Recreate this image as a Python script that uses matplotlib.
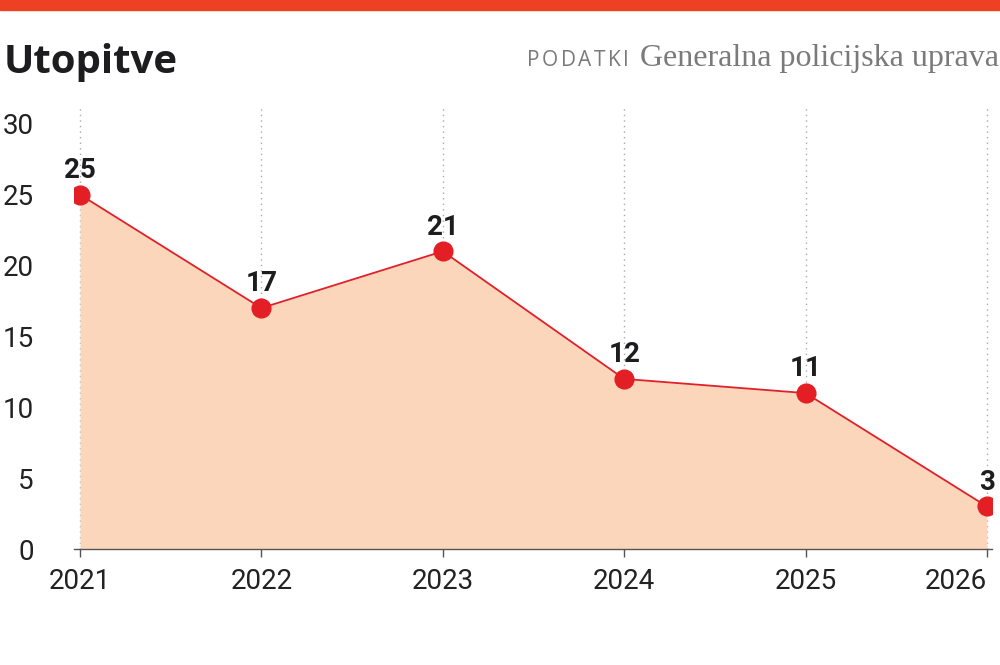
import matplotlib.pyplot as plt
from matplotlib.patches import Rectangle

# data
years = [2021, 2022, 2023, 2024, 2025, 2026]
drownings = [25, 17, 21, 12, 11, 3]
yticks = [0, 5, 10, 15, 20, 25, 30]

title = 'Utopitve'
source_label = 'PODATKI'
source_text = 'Generalna policijska uprava'

plt.rcParams['font.family'] = ['Roboto', 'DejaVu Sans']

fig = plt.figure(figsize=(10, 6.65), dpi=100)
ax = fig.add_axes([0.074, 0.1744, 0.918, 0.663])

# top red band
fig.patches.append(Rectangle((0, 1 - 10 / 665), 1, 10 / 665, transform=fig.transFigure,
                             color='#ee4023', zorder=0))

ax.fill_between(years, drownings, 0, color='#fbd6bb', lw=0, zorder=1)
ax.plot(years, drownings, color='#e0202a', lw=1.3, zorder=3)
ax.plot(years, drownings, 'o', color='#e31e24', markersize=13.5, zorder=4)

for x, y in zip(years, drownings):
    ax.annotate(str(y), (x, y), xytext=(0, 12), textcoords='offset points',
                ha='center', va='baseline', fontsize=20, fontweight='bold', color='#1d1d1f')

ax.set_xlim(2020.967, 2026.028)
ax.set_ylim(0, 31.1)
ax.set_xticks(years)
ax.set_yticks(yticks)
ax.tick_params(axis='x', length=6, width=1, color='#555555', labelsize=20, pad=8,
               labelcolor='#222222')
ax.tick_params(axis='y', length=0, labelsize=20, pad=29, labelcolor='#222222')
ax.get_xticklabels()[-1].set_ha('right')
ax.get_xticklabels()[-1].set_x(2026.02)

ax.xaxis.grid(True, linestyle=(0, (1, 3)), color='#aaaaaa', lw=1)
ax.set_axisbelow(True)
for s in ['top', 'right', 'left']:
    ax.spines[s].set_visible(False)
ax.spines['bottom'].set_color('#555555')
ax.spines['bottom'].set_linewidth(1)

fig.text(0.004, 1 - 73 / 665, title, fontsize=29, fontweight='bold', color='#1d1d1f',
         family=['Open Sans', 'DejaVu Sans'], ha='left', va='baseline')

src = fig.text(0.999, 1 - 66 / 665, source_text, fontsize=23, color='#7a7a7a',
               family=['Liberation Serif', 'DejaVu Serif'], ha='right', va='baseline')
fig.canvas.draw()
r = fig.canvas.get_renderer()
xr = src.get_window_extent(r).x0 - 11
# letter-spaced label, drawn right to left
for ch in reversed(source_label):
    t = fig.text(xr / fig.bbox.width, 1 - 66 / 665, ch, fontsize=15, fontweight='medium',
                 color='#7a7a7a', family=['Open Sans', 'DejaVu Sans'],
                 ha='right', va='baseline')
    xr = t.get_window_extent(r).x0 - 2.5

fig.savefig('out.png', dpi=100)
